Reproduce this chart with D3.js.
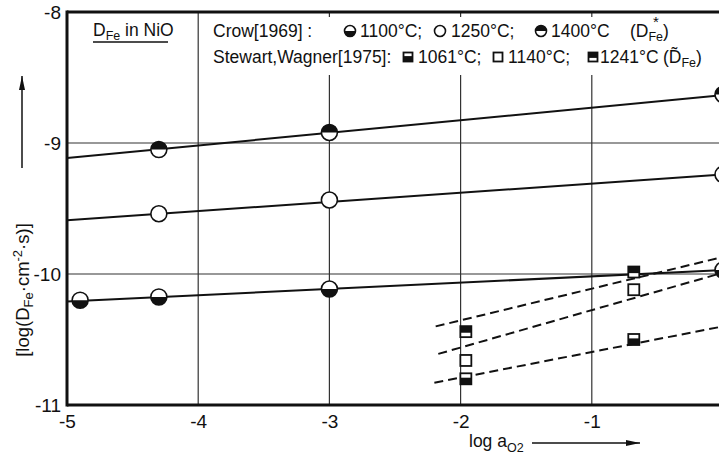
<!DOCTYPE html>
<html><head><meta charset="utf-8">
<script src="https://cdn.jsdelivr.net/npm/d3@7"></script>
<style>
html,body{margin:0;padding:0;background:#fff;}
svg{display:block;font-family:"Liberation Sans","DejaVu Sans",sans-serif;}
</style></head>
<body><svg id="c" width="719" height="457"></svg>
<script>
// ---- data ----
const xTicks = [-5, -4, -3, -2, -1];
const yTicks = [-8, -9, -10, -11];
const xTickLabels = ["-5", "-4", "-3", "-2", "-1"];
const yTickLabels = ["-8", "-9", "-10", "-11"];

// Crow [1969], D*_Fe : measured points
const crow1100X = [-4.9, -4.3, -3, 0];
const crow1100Y = [-10.20, -10.175, -10.115, -9.97];
const crow1250X = [-4.3, -3, 0];
const crow1250Y = [-9.54, -9.435, -9.24];
const crow1400X = [-4.3, -3, 0];
const crow1400Y = [-9.05, -8.92, -8.63];
// Crow fitted lines (value at log a = -5 and 0)
const crowLineX = [-5, 0];
const crow1100Line = [-10.21, -9.97];
const crow1250Line = [-9.59, -9.24];
const crow1400Line = [-9.115, -8.634];

// Stewart, Wagner [1975], D~_Fe
const sw1061X = [-1.96, -0.68, 0.02];
const sw1061Y = [-10.80, -10.50, -10.40];
const sw1140X = [-1.96, -0.68];
const sw1140Y = [-10.66, -10.12];
const sw1241X = [-1.96, -0.68];
const sw1241Y = [-10.44, -9.985];
// dashed lines (x start/end, y start/end)
const sw1061LineX = [-2.2, 0];
const sw1061Line = [-10.83, -10.40];
const sw1140LineX = [-2.17, 0];
const sw1140Line = [-10.61, -9.99];
const sw1241LineX = [-2.19, 0];
const sw1241Line = [-10.40, -9.87];

// ---- drawing ----
const svg = d3.select("#c");
const x = d3.scaleLinear().domain([-5, 0]).range([67, 723]);
const y = d3.scaleLinear().domain([-11, -8]).range([405, 12]);
const ink = "#111";

// grid
const legendBottom = 75;
svg.append("g").selectAll("line").data([-4, -3, -2, -1]).join("line")
  .attr("x1", d => x(d)).attr("x2", d => x(d))
  .attr("y1", d => d === -4 ? y(-8) : legendBottom).attr("y2", y(-11))
  .attr("stroke", "#333").attr("stroke-width", 1.2);
svg.append("g").selectAll("line").data([-3, -2, -1]).join("line")
  .attr("x1", d => x(d)).attr("x2", d => x(d))
  .attr("y1", y(-8)).attr("y2", y(-8) + 5)
  .attr("stroke", "#333").attr("stroke-width", 1.2);
svg.append("g").selectAll("line").data([-9, -10]).join("line")
  .attr("x1", x(-5)).attr("x2", 719)
  .attr("y1", d => y(d)).attr("y2", d => y(d))
  .attr("stroke", "#333").attr("stroke-width", 1.2);

// frame
svg.append("line").attr("x1", x(-5)).attr("x2", x(-5)).attr("y1", y(-8) - 1.5).attr("y2", y(-11) + 1.5)
  .attr("stroke", ink).attr("stroke-width", 3);
svg.append("line").attr("x1", x(-5)).attr("x2", 719).attr("y1", y(-11)).attr("y2", y(-11))
  .attr("stroke", ink).attr("stroke-width", 3);
svg.append("line").attr("x1", x(-5)).attr("x2", 719).attr("y1", y(-8)).attr("y2", y(-8))
  .attr("stroke", ink).attr("stroke-width", 3);

// axes via d3
const xAxis = d3.axisBottom(x).tickValues(xTicks).tickSize(0).tickPadding(10)
  .tickFormat((d, i) => xTickLabels[i]);
const gx = svg.append("g").attr("transform", `translate(0,${y(-11)})`).call(xAxis);
gx.select(".domain").remove();
gx.selectAll("text").attr("font-size", 19).attr("font-family", "Liberation Sans, sans-serif").attr("fill", ink);

const yAxis = d3.axisLeft(y).tickValues(yTicks).tickSize(0).tickPadding(6)
  .tickFormat((d, i) => yTickLabels[i]);
const gy = svg.append("g").attr("transform", `translate(${x(-5)},0)`).call(yAxis);
gy.select(".domain").remove();
gy.selectAll("text").attr("font-size", 19).attr("font-family", "Liberation Sans, sans-serif").attr("fill", ink);

// clip for plot area
svg.append("clipPath").attr("id", "pc").append("rect")
  .attr("x", x(-5)).attr("y", y(-8)).attr("width", 719 - x(-5) + 10).attr("height", y(-11) - y(-8));
const plot = svg.append("g").attr("clip-path", "url(#pc)");

const line = d3.line().x(d => x(d[0])).y(d => y(d[1]));
[crow1100Line, crow1250Line, crow1400Line].forEach(L => {
  plot.append("path").datum(crowLineX.map((v, i) => [v, L[i]])).attr("d", line)
    .attr("fill", "none").attr("stroke", ink).attr("stroke-width", 2);
});
[[sw1061LineX, sw1061Line], [sw1140LineX, sw1140Line], [sw1241LineX, sw1241Line]].forEach(([LX, L]) => {
  plot.append("path").datum(LX.map((v, i) => [v, L[i]])).attr("d", line)
    .attr("fill", "none").attr("stroke", ink).attr("stroke-width", 2).attr("stroke-dasharray", "9,5");
});

// symbol helpers
function circleSym(g, cx, cy, r, fill) { // fill: "none","top","bottom"
  g.append("circle").attr("cx", cx).attr("cy", cy).attr("r", r).attr("fill", "#fff").attr("stroke", ink).attr("stroke-width", 1.6);
  if (fill === "top") g.append("path").attr("d", `M${cx - r},${cy} A${r},${r} 0 0 1 ${cx},${cy - r} A${r},${r} 0 0 1 ${cx + r},${cy} Z`).attr("fill", ink);
  if (fill === "bottom") g.append("path").attr("d", `M${cx - r},${cy} A${r},${r} 0 0 0 ${cx},${cy + r} A${r},${r} 0 0 0 ${cx + r},${cy} Z`).attr("fill", ink);
}
function squareSym(g, cx, cy, s, fill) {
  g.append("rect").attr("x", cx - s / 2).attr("y", cy - s / 2).attr("width", s).attr("height", s)
    .attr("fill", "#fff").attr("stroke", ink).attr("stroke-width", 1.8);
  if (fill === "top") g.append("rect").attr("x", cx - s / 2).attr("y", cy - s / 2).attr("width", s).attr("height", s * 0.6).attr("fill", ink);
  if (fill === "bottom") g.append("rect").attr("x", cx - s / 2).attr("y", cy - s / 2 + s * 0.4).attr("width", s).attr("height", s * 0.6).attr("fill", ink);
}

crow1100X.forEach((v, i) => circleSym(plot, x(v), y(crow1100Y[i]), 8, "bottom"));
crow1250X.forEach((v, i) => circleSym(plot, x(v), y(crow1250Y[i]), 8, "none"));
crow1400X.forEach((v, i) => circleSym(plot, x(v), y(crow1400Y[i]), 8, "top"));
sw1061X.forEach((v, i) => squareSym(plot, x(v), y(sw1061Y[i]), 11, "bottom"));
sw1140X.forEach((v, i) => squareSym(plot, x(v), y(sw1140Y[i]), 11, "none"));
sw1241X.forEach((v, i) => squareSym(plot, x(v), y(sw1241Y[i]), 11, "top"));

// legend
const fs = 17.5;
const T = (tx, ty, s, opts = {}) => svg.append("text").attr("x", tx).attr("y", ty).attr("font-size", opts.fs || fs)
  .attr("fill", ink).attr("text-anchor", opts.anchor || "start").text(s);

const title = svg.append("text").attr("x", 93).attr("y", 36).attr("font-size", fs).attr("fill", ink);
title.append("tspan").text("D");
title.append("tspan").attr("font-size", 12.5).attr("dy", 4).text("Fe");
title.append("tspan").attr("dy", -4).text(" in NiO");
svg.append("line").attr("x1", 93).attr("x2", 168).attr("y1", 42).attr("y2", 42).attr("stroke", ink).attr("stroke-width", 1.5);

T(213, 37, "Crow[1969] :");
circleSym(svg, 350, 31, 5.5, "bottom");
T(360, 37, "1100°C;");
circleSym(svg, 440, 31, 5.5, "none");
T(451, 37, "1250°C;");
circleSym(svg, 541, 31, 5.5, "top");
T(551, 37, "1400°C");
const dstar = svg.append("text").attr("x", 630).attr("y", 37).attr("font-size", fs).attr("fill", ink);
dstar.append("tspan").text("(D");
dstar.append("tspan").attr("font-size", 12.5).attr("dy", 4).text("Fe");
dstar.append("tspan").attr("dy", -4).text(")");
T(653, 27, "*", { fs: 15 });

T(213, 63, "Stewart,Wagner[1975]:");
squareSym(svg, 408, 57, 9, "bottom");
T(418, 63, "1061°C;");
squareSym(svg, 498, 57, 9, "none");
T(508, 63, "1140°C;");
squareSym(svg, 593, 57, 9, "top");
T(600, 63, "1241°C");
const dt = svg.append("text").attr("x", 663).attr("y", 63).attr("font-size", fs).attr("fill", ink);
dt.append("tspan").text("(D\u0303");
dt.append("tspan").attr("font-size", 12.5).attr("dy", 4).text("Fe");
dt.append("tspan").attr("dy", -4).text(")");

// x-axis title
const xt = svg.append("text").attr("x", 469).attr("y", 447).attr("font-size", fs).attr("fill", ink);
xt.append("tspan").text("log a");
xt.append("tspan").attr("font-size", 12.5).attr("dy", 5).text("O2");
const mk = svg.append("defs").append("marker").attr("id", "ah").attr("viewBox", "0 0 14 6").attr("refX", 14).attr("refY", 3)
  .attr("markerWidth", 14).attr("markerHeight", 6).attr("markerUnits", "userSpaceOnUse").attr("orient", "auto");
mk.append("path").attr("d", "M0,0 L14,3 L0,6 Z").attr("fill", ink);
svg.append("line").attr("x1", 532).attr("x2", 640).attr("y1", 443).attr("y2", 443)
  .attr("stroke", ink).attr("stroke-width", 1.5).attr("marker-end", "url(#ah)");

// y-axis title
const yt = svg.append("text").attr("transform", "translate(29,290) rotate(-90)").attr("text-anchor", "middle")
  .attr("font-size", 18.5).attr("fill", ink);
yt.append("tspan").text("[log(D");
yt.append("tspan").attr("font-size", 13).attr("dy", 4).text("Fe");
yt.append("tspan").attr("dy", -4).text("\u00b7cm");
yt.append("tspan").attr("font-size", 13).attr("dy", -7).text("-2");
yt.append("tspan").attr("dy", 7).text("\u00b7s)]");
svg.append("line").attr("x1", 22).attr("x2", 22).attr("y1", 168).attr("y2", 76)
  .attr("stroke", ink).attr("stroke-width", 1.5).attr("marker-end", "url(#ah)");
</script></body></html>
